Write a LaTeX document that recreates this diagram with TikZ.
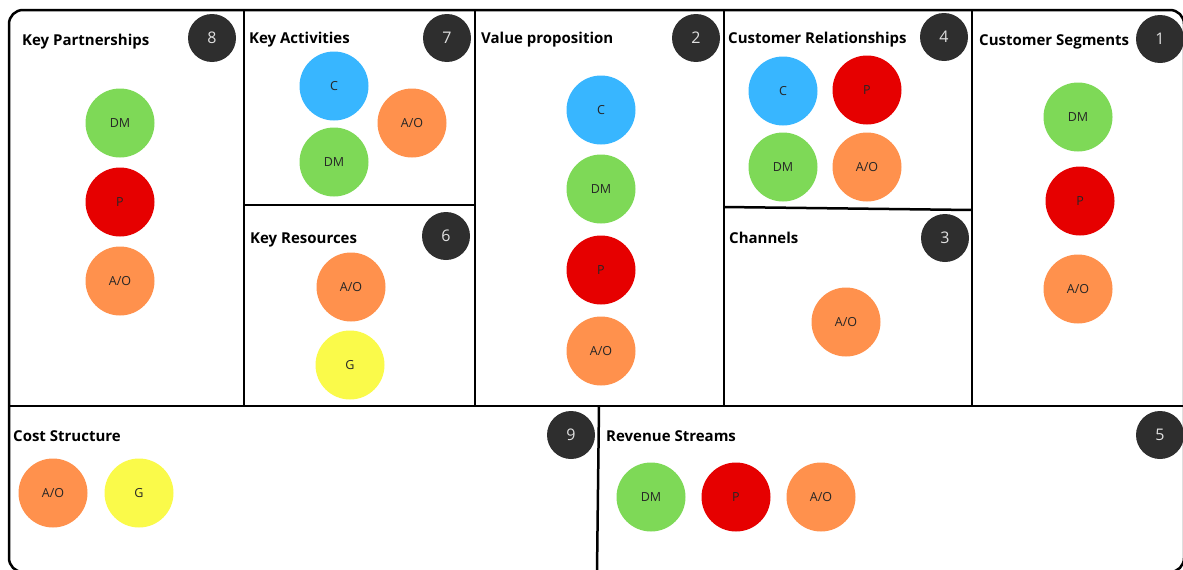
\documentclass[tikz,border=0pt]{standalone}
\usepackage{fontspec}
\setmainfont{Open Sans}
\usepackage{xcolor}
\usepackage{tikz}

\definecolor{dmGreen}{HTML}{7ED957}
\definecolor{cBlue}{HTML}{38B6FF}
\definecolor{pRed}{HTML}{E60000}
\definecolor{aoOrange}{HTML}{FF914D}
\definecolor{gYellow}{HTML}{FAFA4A}
\definecolor{badgeGrey}{HTML}{2E2E2E}

\newcommand{\canvasWidth}{1183}
\newcommand{\canvasHeight}{570}
\newcommand{\frameLeft}{9}
\newcommand{\frameTop}{10}
\newcommand{\frameRight}{1184}
\newcommand{\frameBottom}{572}
\newcommand{\midRow}{406}
\newcommand{\columnLines}{244, 475, 724, 972}

\tikzset{
	frame/.style={line width=2.5pt, black},
	tag/.style={circle, minimum size=69pt, inner sep=0pt, text=black!85, font=\fontsize{12.5}{14}\selectfont},
	badge/.style={circle, fill=badgeGrey, minimum size=48pt, inner sep=0pt, text=white!88!black, font=\fontsize{16}{18}\selectfont},
	heading/.style={anchor=base west, inner sep=0pt, font=\fontsize{15}{17}\selectfont\bfseries}
}

\begin{document}
\begin{tikzpicture}[x=1pt, y=-1pt]
	\useasboundingbox (0,0) rectangle (\canvasWidth,\canvasHeight);

	% outer frame and the grid of blocks
	\draw[frame, rounded corners=14pt] (\frameLeft,\frameTop) rectangle (\frameRight,\frameBottom);
	\foreach \colX in \columnLines
	{
		\draw[frame] (\colX,\frameTop) -- (\colX,\midRow);
	}
	\draw[frame] (\frameLeft,\midRow) -- (\frameRight,\midRow);
	\draw[frame] (244,205) -- (475,205);
	\draw[frame] (724,207) -- (972,210);
	\draw[frame] (599,\midRow) -- (597,\frameBottom);

	% block titles
	\node[heading] (kpTitle) at (22,45) {Key Partnerships};
	\node[heading] (kaTitle) at (249,43) {Key Activities};
	\node[heading] (krTitle) at (250,243) {Key Resources};
	\node[heading] (vpTitle) at (481,43) {Value proposition};
	\node[heading] (crTitle) at (728,43) {Customer Relationships};
	\node[heading] (chTitle) at (729,243) {Channels};
	\node[heading] (csTitle) at (979,45) {Customer Segments};
	\node[heading] (costTitle) at (13,441) {Cost Structure};
	\node[heading] (rsTitle) at (606,441) {Revenue Streams};

	% numbered badges
	\foreach \bx/\by/\num in {212/38/8, 447/38/7, 446/236/6, 696/38/2, 944/37/4, 945/238/3, 1160/39/1, 571/435/9, 1160/435/5}
	{
		\node[badge] (badge\num) at (\bx,\by) {\num};
	}

	% Key Partnerships
	\foreach \cx/\cy/\tone/\code [count=\i] in {120/123/dmGreen/DM, 120/202/pRed/P, 120/281/aoOrange/{A/O}}
	{
		\node[tag, fill=\tone] (kp\i) at (\cx,\cy) {\code};
	}
	% Key Activities
	\foreach \cx/\cy/\tone/\code [count=\i] in {334/86/cBlue/C, 412/123/aoOrange/{A/O}, 334/162/dmGreen/DM}
	{
		\node[tag, fill=\tone] (ka\i) at (\cx,\cy) {\code};
	}
	% Key Resources
	\foreach \cx/\cy/\tone/\code [count=\i] in {351/287/aoOrange/{A/O}, 350/365/gYellow/G}
	{
		\node[tag, fill=\tone] (kr\i) at (\cx,\cy) {\code};
	}
	% Value proposition
	\foreach \cx/\cy/\tone/\code [count=\i] in {601/110/cBlue/C, 601/189/dmGreen/DM, 601/270/pRed/P, 601/351/aoOrange/{A/O}}
	{
		\node[tag, fill=\tone] (vp\i) at (\cx,\cy) {\code};
	}
	% Customer Relationships
	\foreach \cx/\cy/\tone/\code [count=\i] in {783/91/cBlue/C, 867/90/pRed/P, 783/167/dmGreen/DM, 867/167/aoOrange/{A/O}}
	{
		\node[tag, fill=\tone] (cr\i) at (\cx,\cy) {\code};
	}
	% Channels
	\node[tag, fill=aoOrange] (ch1) at (846,322) {A/O};
	% Customer Segments
	\foreach \cx/\cy/\tone/\code [count=\i] in {1078/117/dmGreen/DM, 1080/201/pRed/P, 1078/289/aoOrange/{A/O}}
	{
		\node[tag, fill=\tone] (cs\i) at (\cx,\cy) {\code};
	}
	% Cost Structure
	\foreach \cx/\cy/\tone/\code [count=\i] in {53/493/aoOrange/{A/O}, 139/493/gYellow/G}
	{
		\node[tag, fill=\tone] (cost\i) at (\cx,\cy) {\code};
	}
	% Revenue Streams
	\foreach \cx/\cy/\tone/\code [count=\i] in {651/497/dmGreen/DM, 736/497/pRed/P, 821/497/aoOrange/{A/O}}
	{
		\node[tag, fill=\tone] (rs\i) at (\cx,\cy) {\code};
	}
\end{tikzpicture}
\end{document}
